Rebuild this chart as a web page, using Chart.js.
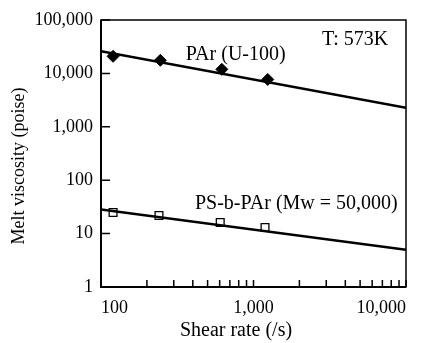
<!DOCTYPE html>
<html>
<head>
<meta charset="utf-8">
<script src="https://cdn.jsdelivr.net/npm/chart.js@4.4.1/dist/chart.umd.min.js"></script>
<style>
  html, body { margin: 0; padding: 0; background: #fff; }
  canvas { display: block; }
</style>
</head>
<body>
<canvas id="viscosityChart" width="425" height="343"></canvas>
<script>
// Données
var parShearRate = [120, 245, 620, 1240];
var parViscosity = [20900, 17600, 11900, 7700];
var psShearRate = [120, 240, 605, 1190];
var psViscosity = [24.9, 21.9, 16.1, 13.0];

// Droites de régression (extrémités)
var fitShearRate = [100, 10000];
var parFitViscosity = [26000, 2280];
var psFitViscosity = [28.4, 5.0];

// Graduations
var yTickValues = [1, 10, 100, 1000, 10000, 100000];
var xTickValues = [100, 1000, 10000];
var xMinorTickValues = [200, 300, 400, 500, 600, 700, 800, 900,
                        2000, 3000, 4000, 5000, 6000, 7000, 8000, 9000];

// Textes dans le graphique
var labels = [
    { text: 'PAr (U-100)', x: 360, y: 21900 },
    { text: 'T: 573K', x: 2810, y: 41900 },
    { text: 'PS-b-PAr (Mw = 50,000)', x: 413, y: 36.8 }
];

function toPoints(xs, ys) {
    return xs.map(function(x, i) { return { x: x, y: ys[i] }; });
}

function fmt(v) {
    return Number(v).toLocaleString('en-US');
}

var frameAndTicks = {
    id: 'frameAndTicks',
    afterDraw: function(chart) {
        var ctx = chart.ctx;
        var a = chart.chartArea;
        var xs = chart.scales.x;
        var ys = chart.scales.y;
        ctx.save();
        ctx.strokeStyle = '#000';
        ctx.lineWidth = 1.5;
        ctx.strokeRect(a.left, a.top, a.right - a.left, a.bottom - a.top);
        ctx.lineWidth = 2;
        ctx.beginPath();
        ctx.moveTo(a.left, a.top);
        ctx.lineTo(a.left, a.bottom);
        ctx.lineTo(a.right, a.bottom);
        ctx.stroke();

        // graduations vers l'intérieur
        ctx.lineWidth = 1.5;
        ctx.beginPath();
        yTickValues.forEach(function(v) {
            var py = ys.getPixelForValue(v);
            ctx.moveTo(a.left, py);
            ctx.lineTo(a.left + 9, py);
        });
        xMinorTickValues.concat(xTickValues).forEach(function(v) {
            var px = xs.getPixelForValue(v);
            ctx.moveTo(px, a.bottom);
            ctx.lineTo(px, a.bottom - 7);
        });
        ctx.stroke();

        // textes
        ctx.fillStyle = '#000';
        ctx.font = '20px "Liberation Serif"';
        ctx.textAlign = 'left';
        ctx.textBaseline = 'middle';
        labels.forEach(function(l) {
            ctx.fillText(l.text, xs.getPixelForValue(l.x), ys.getPixelForValue(l.y));
        });

        // titres des axes
        ctx.font = '20px "Liberation Serif"';
        ctx.textAlign = 'center';
        ctx.fillText('Shear rate (/s)', 236, 331);
        ctx.font = '18px "Liberation Serif"';
        ctx.translate(19, 166);
        ctx.rotate(-Math.PI / 2);
        ctx.fillText('Melt viscosity (poise)', 0, 0);
        ctx.restore();
    }
};

document.addEventListener('DOMContentLoaded', function() {
    Chart.defaults.font.family = '"Liberation Serif"';
    Chart.defaults.font.size = 18;
    Chart.defaults.color = '#000';

    var ctx = document.getElementById('viscosityChart').getContext('2d');
    new Chart(ctx, {
        type: 'scatter',
        data: {
            datasets: [{
                label: 'PAr fit',
                data: toPoints(fitShearRate, parFitViscosity),
                showLine: true,
                borderColor: '#000',
                borderWidth: 2.5,
                pointRadius: 0
            }, {
                label: 'PS-b-PAr fit',
                data: toPoints(fitShearRate, psFitViscosity),
                showLine: true,
                borderColor: '#000',
                borderWidth: 2.5,
                pointRadius: 0
            }, {
                label: 'PAr (U-100)',
                data: toPoints(parShearRate, parViscosity),
                pointStyle: 'rectRot',
                pointRadius: 6,
                backgroundColor: '#000',
                borderColor: '#000',
                borderWidth: 1
            }, {
                label: 'PS-b-PAr',
                data: toPoints(psShearRate, psViscosity),
                pointStyle: 'rect',
                pointRadius: 5.5,
                backgroundColor: '#fff',
                borderColor: '#000',
                borderWidth: 1.3
            }]
        },
        options: {
            responsive: false,
            animation: false,
            layout: { padding: { left: 0, right: 19, top: 20, bottom: 0 } },
            plugins: { legend: { display: false }, tooltip: { enabled: false } },
            scales: {
                x: {
                    type: 'logarithmic',
                    min: 100,
                    max: 10000,
                    afterBuildTicks: function(scale) {
                        scale.ticks = xTickValues.map(function(v) { return { value: v }; });
                    },
                    afterFit: function(scale) { scale.height = 56; },
                    grid: { drawOnChartArea: false, drawTicks: false },
                    border: { display: false },
                    ticks: {
                        align: 'inner',
                        padding: 10,
                        maxRotation: 0,
                        autoSkip: false,
                        callback: function(v) { return fmt(v); }
                    }
                },
                y: {
                    type: 'logarithmic',
                    min: 1,
                    max: 100000,
                    afterBuildTicks: function(scale) {
                        scale.ticks = yTickValues.map(function(v) { return { value: v }; });
                    },
                    afterFit: function(scale) { scale.width = 101; },
                    grid: { drawOnChartArea: false, drawTicks: false },
                    border: { display: false },
                    ticks: {
                        padding: 8,
                        autoSkip: false,
                        callback: function(v) { return fmt(v); }
                    }
                }
            }
        },
        plugins: [frameAndTicks]
    });
});
</script>
</body>
</html>
